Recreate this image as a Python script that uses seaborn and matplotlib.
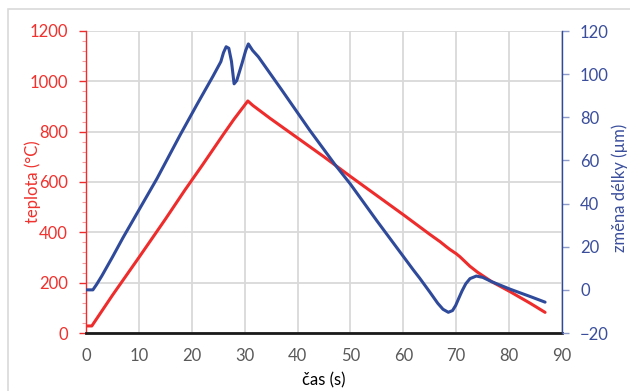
import matplotlib
matplotlib.use("Agg")
import matplotlib.pyplot as plt
import seaborn as sns
import pandas as pd
from matplotlib.ticker import MultipleLocator
from matplotlib.patches import Rectangle

# ---- data ----
temp_time = [0, 1.1, 5, 10, 15, 18.7, 22, 26, 28, 30.6, 31.5, 34.8, 40, 45, 50, 55,
             60, 65, 67, 68, 68.8, 70, 70.7, 72.6, 74, 76.7, 80.2, 84, 86.8]
temp_vals = [28, 28, 150, 300, 452, 568, 667, 790, 850, 922, 905, 853, 775, 700, 622, 546,
             470, 392, 362, 345, 332, 315, 303, 265, 242, 204, 164, 118, 82]

dl_time = [0, 1.3, 2, 3, 5, 7, 10, 13.4, 17.8, 21, 24, 25.5, 26, 26.5, 27, 27.5, 28, 28.5,
           29.5, 30.2, 30.7, 31.5, 32.6, 37, 42.3, 47.1, 50, 55, 61.9, 63.1, 65, 66.5, 67.5,
           68.5, 69.3, 69.9, 70.5, 71.1, 71.8, 72.6, 73.8, 75, 76.7, 80.2, 84, 86.8]
dl_vals = [0, 0, 2.5, 6.5, 15.2, 24.2, 37, 51.5, 71.8, 86, 99, 105.8, 110, 112.7, 112, 106,
           95.5, 97, 105, 111, 114, 111, 108, 92.7, 74, 58, 49, 32, 9.2, 5.4, -1, -6.2, -9,
           -10.4, -9.6, -7.2, -3.8, -0.5, 2.8, 5.2, 6.4, 5.8, 3.8, 0.3, -3.1, -5.7]

x_ticks = [0, 10, 20, 30, 40, 50, 60, 70, 80, 90]
left_ticks = [0, 200, 400, 600, 800, 1000, 1200]
right_ticks = [-20, 0, 20, 40, 60, 80, 100, 120]

x_label = "čas (s)"
left_label = "teplota (°C)"
right_label = "změna délky (µm)"

RED = "#EE2C2C"
BLUE = "#2F4A9A"
RED_TXT = "#F0312D"
BLUE_TXT = "#3A4E9C"
GRID = "#D9D9D9"

sns.set_style("white")
plt.rcParams['font.family'] = ['Lato', 'DejaVu Sans']
FS = 12

fig = plt.figure(figsize=(6.30, 3.91), dpi=100)
fig.patches.append(Rectangle((8/630, 1 - 9/391 - 1.0), 1.2, 1.0, transform=fig.transFigure,
                             fill=False, edgecolor=GRID, linewidth=1.2))
ax = fig.add_axes([86/630, 1 - 333/391, (562-86)/630, (333-31)/391])

df_t = pd.DataFrame({"t": temp_time, "v": temp_vals})
df_d = pd.DataFrame({"t": dl_time, "v": dl_vals})

sns.lineplot(data=df_t, x="t", y="v", ax=ax, color=RED, linewidth=2.2, sort=False,
             estimator=None, zorder=3)
ax2 = ax.twinx()
sns.lineplot(data=df_d, x="t", y="v", ax=ax2, color=BLUE, linewidth=2.2, sort=False,
             estimator=None, zorder=3)

ax.set_xlim(0, 90)
ax.set_ylim(0, 1200)
ax2.set_ylim(-20, 120)
ax.set_xticks(x_ticks)
ax.set_yticks(left_ticks)
ax2.set_yticks(right_ticks)
ax.yaxis.set_minor_locator(MultipleLocator(40))

ax.grid(True, which="major", color=GRID, linewidth=1.3)
ax.set_axisbelow(True)
ax2.grid(False)

for s in ["top", "right"]:
    ax.spines[s].set_visible(False)
for s in ["top", "left", "bottom"]:
    ax2.spines[s].set_visible(False)
ax.spines["left"].set_color(RED)
ax.spines["left"].set_linewidth(1.0)
ax.spines["bottom"].set_color("#1a1a1a")
ax.spines["bottom"].set_linewidth(2.0)
ax.spines["bottom"].set_zorder(4)
ax2.spines["right"].set_color(BLUE)
ax2.spines["right"].set_linewidth(1.0)

ax.tick_params(axis="x", length=0, pad=11, labelsize=FS, labelcolor="#595959")
ax.tick_params(axis="y", which="major", length=5, width=1, color=RED, direction="out",
               pad=8, labelsize=FS, labelcolor=RED_TXT, left=True)
ax.tick_params(axis="y", which="minor", length=3, width=0.8, color="#F4A0A0", left=True)
ax2.tick_params(axis="y", which="major", length=5, width=1, color="#8E9BC8", direction="out",
                pad=8, labelsize=FS, labelcolor=BLUE_TXT, right=True)

ax.set_xlabel(x_label, fontsize=FS, color="black")
ax.xaxis.set_label_coords(0.5, -0.13)
ax.set_ylabel(left_label, fontsize=FS, color=RED_TXT)
ax.yaxis.set_label_coords((41 - 86) / 476, 0.5)
ax2.set_ylabel(right_label, fontsize=FS, color=BLUE_TXT, rotation=90)
ax2.yaxis.set_label_coords((611 - 86) / 476, 0.48)

fig.savefig("out.png", dpi=100)
